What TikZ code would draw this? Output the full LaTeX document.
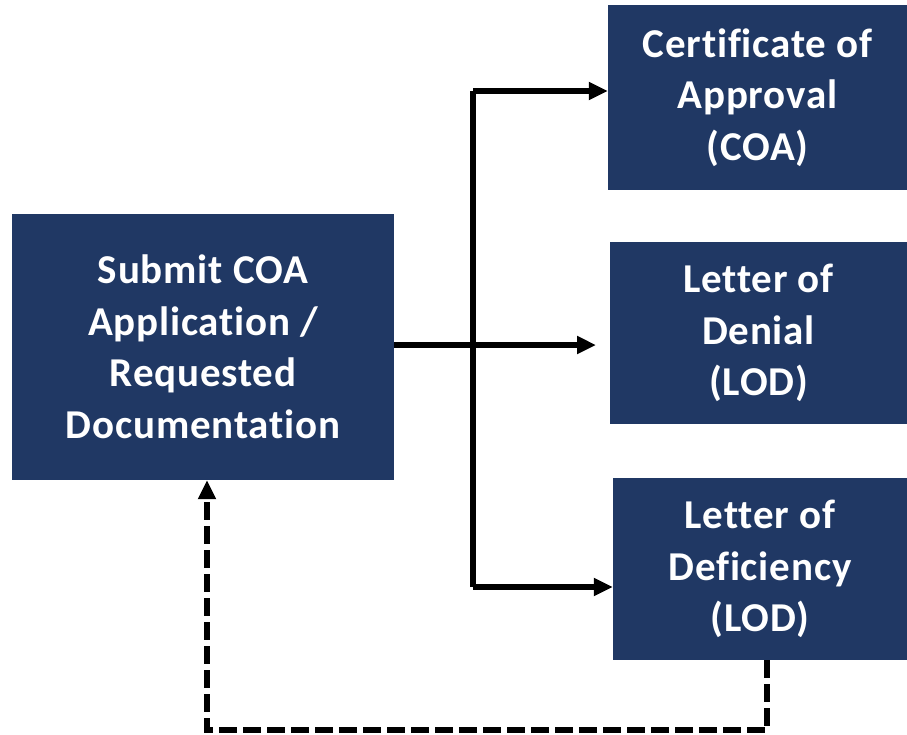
\documentclass[tikz,border=0pt]{standalone}
\usepackage{fontspec}
\setmainfont{Carlito}[Ligatures=NoCommon,LetterSpace=2]
\usetikzlibrary{arrows.meta}
\definecolor{navy}{HTML}{203864}
\begin{document}
\begin{tikzpicture}[x=1pt,y=1pt,
  box/.style={fill=navy,draw=none,text=white,align=center,inner sep=0pt,
    font=\fontsize{41}{51.5}\selectfont\bfseries},
  conn/.style={line width=6pt,-{Triangle[length=19pt,width=17pt]}},
  back/.style={line width=6pt,dash pattern=on 18pt off 6pt,-{Triangle[length=19pt,width=17pt]}}]
\useasboundingbox (0,0) rectangle (907,-734);
\node[box,minimum width=382pt,minimum height=266pt] (sub) at (203,-347)
  {Submit COA\\Application /\\Requested\\Documentation};
\node[box,minimum width=299pt,minimum height=185pt] (coa) at (757.5,-97.5)
  {Certificate of\\Approval\\(COA)};
\node[box,minimum width=297pt,minimum height=182pt] (lod) at (758.5,-333)
  {Letter of\\Denial\\(LOD)};
\node[box,minimum width=294pt,minimum height=182pt] (def) at (760,-569)
  {Letter of\\Deficiency\\(LOD)};
\coordinate (mid) at (596,-345);
\coordinate (top) at (473,-91);
\coordinate (bot) at (473,-587);
\coordinate (dl) at (207,-730);
\coordinate (dr) at (767,-730);
\draw[conn] (sub.east |- mid) -- (mid);
\draw[line width=6pt] (bot) -- (top);
\draw[conn] (top) -- (coa.west |- top);
\draw[conn] (bot) -- (def.west |- bot);
\draw[back] (def.south -| dr) -- (dr) -- (dl) -- (sub.south -| dl);
\end{tikzpicture}
\end{document}
